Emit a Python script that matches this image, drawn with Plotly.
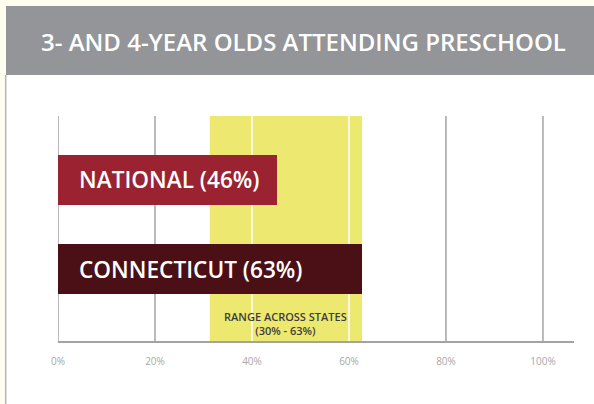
import plotly.graph_objects as go

# ---- data ----
categories = ["CONNECTICUT", "NATIONAL"]
values = [62.7, 45.2]
bar_labels = ["CONNECTICUT (63%)", "NATIONAL (46%)"]
bar_colors = ["#4a1015", "#9b2230"]
range_low = 31.3
range_high = 62.7
range_label = "RANGE ACROSS STATES<br>(30% - 63%)"
tick_vals = [0, 20, 40, 60, 80, 100]
tick_text = ["0%", "20%", "40%", "60%", "80%", "100%"]
title_text = "3- AND 4-YEAR OLDS ATTENDING PRESCHOOL"

W, H = 594, 404
ML, MR, MT, MB = 58, 20, 116, 63
PW, PH = W - ML - MR, H - MT - MB

def px(x):
    return (x - ML) / PW

def py(y):
    return (H - MB - y) / PH

fig = go.Figure()
fig.add_trace(go.Bar(
    y=categories, x=values, orientation="h",
    marker=dict(color=bar_colors, line=dict(width=0)),
    width=0.562, hoverinfo="skip",
))

shapes = []
# page panel + header
shapes.append(dict(type="rect", xref="paper", yref="paper", x0=px(6), x1=px(W + 2), y0=py(H + 2), y1=py(75),
                   fillcolor="white", line=dict(width=0), layer="below"))
shapes.append(dict(type="rect", xref="paper", yref="paper", x0=px(6), x1=px(W + 2), y0=py(75), y1=py(6),
                   fillcolor="#939598", line=dict(width=0), layer="below"))
shapes.append(dict(type="line", xref="paper", yref="paper", x0=px(5.7), x1=px(5.7), y0=py(75), y1=py(H + 2),
                   line=dict(color="#b5b5b5", width=1.5), layer="below"))
# range band
shapes.append(dict(type="rect", xref="x", yref="paper", x0=range_low, x1=range_high, y0=0, y1=1.0,
                   fillcolor="#ede86f", line=dict(width=0), layer="below"))
# gridlines
for v in tick_vals:
    col = "white" if range_low < v < range_high else "#a3a3a3"
    shapes.append(dict(type="line", xref="x", yref="paper", x0=v, x1=v, y0=0, y1=1.0,
                       line=dict(color=col, width=1.5), layer="below"))

annotations = []
annotations.append(dict(text=title_text, xref="paper", yref="paper", x=px(39), y=py(41),
                        xanchor="left", yanchor="middle", showarrow=False,
                        font=dict(family="Open Sans", size=24, color="white", weight=600)))
for cat, lab in zip(categories, bar_labels):
    annotations.append(dict(text=lab, xref="x", yref="y", x=0, y=cat, xshift=19,
                            xanchor="left", yanchor="middle", showarrow=False,
                            font=dict(family="Open Sans", size=22.6, color="white", weight=600)))
annotations.append(dict(text=range_label, xref="x", yref="paper", x=(range_low + range_high) / 2, y=py(323.5),
                        xanchor="center", yanchor="middle", showarrow=False,
                        font=dict(family="Open Sans", size=11, color="#3d3d3d", weight=600)))

fig.update_layout(
    width=W, height=H,
    margin=dict(l=ML, r=MR, t=MT, b=MB),
    paper_bgcolor="#fffdf0", plot_bgcolor="rgba(0,0,0,0)",
    showlegend=False, bargap=0,
    shapes=shapes, annotations=annotations,
    xaxis=dict(range=[0, 106.4], tickvals=tick_vals, ticktext=tick_text, showgrid=False, zeroline=False,
               showline=True, linecolor="#a3a3a3", linewidth=1.5, ticks="", ticklen=0, ticklabelstandoff=10,
               tickfont=dict(family="Open Sans", size=10, color="#a8a8a8"), fixedrange=True),
    yaxis=dict(range=[-0.809, 1.719], categoryorder="array", categoryarray=categories,
               showticklabels=False, showgrid=False, zeroline=False, showline=False, fixedrange=True),
)
fig.write_html("out.html")
